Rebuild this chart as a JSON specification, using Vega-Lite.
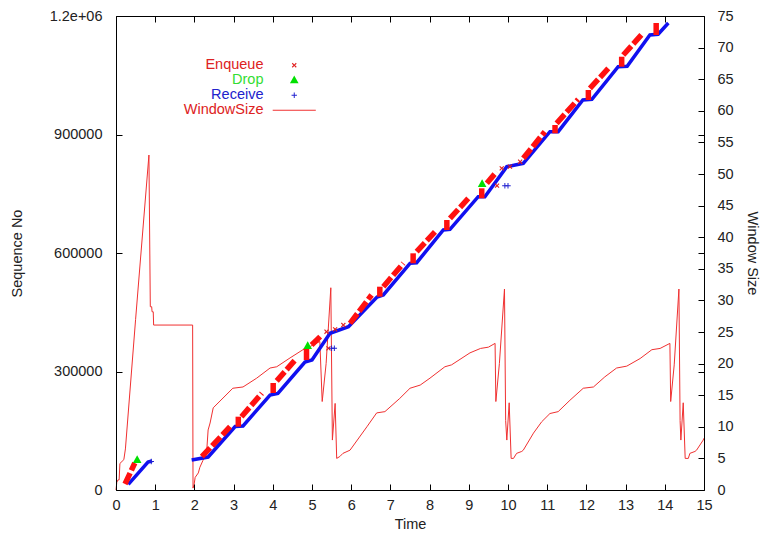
{
  "$schema": "https://vega.github.io/schema/vega-lite/v6.json",
  "width": 588,
  "height": 474,
  "autosize": {"type": "none"},
  "padding": {"left": 116, "top": 16, "right": 59, "bottom": 47},
  "background": "white",
  "config": {
    "font": "Liberation Sans",
    "view": {"stroke": null},
    "axis": {
      "labelFont": "Liberation Sans",
      "titleFont": "Liberation Sans",
      "labelFontSize": 14.5,
      "titleFontSize": 14.5,
      "titleFontWeight": "normal",
      "labelColor": "#222222",
      "titleColor": "#222222",
      "domainColor": "#000000",
      "domainWidth": 1
    }
  },
  "datasets": {
    "receive": [
      {"t": 0.314, "seq": 14400, "seg": "r1"},
      {"t": 0.816, "seq": 70900, "seg": "r1"},
      {"t": 0.918, "seq": 73400, "seg": "r1"},
      {"t": 1.93, "seq": 75900, "seg": "r2"},
      {"t": 2.35, "seq": 83500, "seg": "r2"},
      {"t": 3.04, "seq": 160800, "seg": "r2"},
      {"t": 3.24, "seq": 162000, "seg": "r2"},
      {"t": 3.93, "seq": 240500, "seg": "r2"},
      {"t": 4.13, "seq": 244300, "seg": "r2"},
      {"t": 4.82, "seq": 324000, "seg": "r2"},
      {"t": 5.0, "seq": 329100, "seg": "r2"},
      {"t": 5.46, "seq": 396700, "seg": "r2"},
      {"t": 5.93, "seq": 413400, "seg": "r2"},
      {"t": 6.66, "seq": 488600, "seg": "r2"},
      {"t": 6.82, "seq": 493700, "seg": "r2"},
      {"t": 7.5, "seq": 573900, "seg": "r2"},
      {"t": 7.67, "seq": 575400, "seg": "r2"},
      {"t": 8.35, "seq": 658200, "seg": "r2"},
      {"t": 8.52, "seq": 660000, "seg": "r2"},
      {"t": 9.24, "seq": 742500, "seg": "r2"},
      {"t": 9.41, "seq": 742500, "seg": "r2"},
      {"t": 9.97, "seq": 818500, "seg": "r2"},
      {"t": 10.39, "seq": 827100, "seg": "r2"},
      {"t": 11.07, "seq": 907100, "seg": "r2"},
      {"t": 11.28, "seq": 907100, "seg": "r2"},
      {"t": 11.91, "seq": 987300, "seg": "r2"},
      {"t": 12.14, "seq": 989100, "seg": "r2"},
      {"t": 12.81, "seq": 1071600, "seg": "r2"},
      {"t": 13.04, "seq": 1072600, "seg": "r2"},
      {"t": 13.62, "seq": 1151900, "seg": "r2"},
      {"t": 13.83, "seq": 1153700, "seg": "r2"},
      {"t": 14.09, "seq": 1182300, "seg": "r2"}
    ],
    "enqueue": [
      {"t": 0.23, "seq": 15200, "seg": "0d"},
      {"t": 0.48, "seq": 68400, "seg": "0d"},
      {"t": 2.19, "seq": 84300, "seg": "1d"},
      {"t": 2.91, "seq": 160300, "seg": "1d"},
      {"t": 3.12, "seq": 160300, "seg": "2v"},
      {"t": 3.12, "seq": 185600, "seg": "2v"},
      {"t": 3.2, "seq": 185600, "seg": "2d"},
      {"t": 3.72, "seq": 244800, "seg": "2d"},
      {"t": 4.01, "seq": 245600, "seg": "3v"},
      {"t": 4.01, "seq": 270900, "seg": "3v"},
      {"t": 4.1, "seq": 276200, "seg": "3d"},
      {"t": 4.57, "seq": 329100, "seg": "3d"},
      {"t": 4.86, "seq": 329100, "seg": "4v"},
      {"t": 4.86, "seq": 362800, "seg": "4v"},
      {"t": 4.99, "seq": 367100, "seg": "4d"},
      {"t": 5.25, "seq": 392400, "seg": "4d"},
      {"t": 5.97, "seq": 422000, "seg": "5d"},
      {"t": 6.52, "seq": 493700, "seg": "5d"},
      {"t": 6.73, "seq": 489400, "seg": "6v"},
      {"t": 6.73, "seq": 514700, "seg": "6v"},
      {"t": 6.82, "seq": 514700, "seg": "6d"},
      {"t": 7.33, "seq": 573900, "seg": "6d"},
      {"t": 7.58, "seq": 573900, "seg": "7v"},
      {"t": 7.58, "seq": 599200, "seg": "7v"},
      {"t": 7.67, "seq": 603300, "seg": "7d"},
      {"t": 8.18, "seq": 658200, "seg": "7d"},
      {"t": 8.44, "seq": 658200, "seg": "8v"},
      {"t": 8.44, "seq": 683500, "seg": "8v"},
      {"t": 8.52, "seq": 687800, "seg": "8d"},
      {"t": 8.99, "seq": 738500, "seg": "8d"},
      {"t": 9.33, "seq": 738500, "seg": "9v"},
      {"t": 9.33, "seq": 763800, "seg": "9v"},
      {"t": 9.46, "seq": 776500, "seg": "9d"},
      {"t": 9.71, "seq": 805800, "seg": "9d"},
      {"t": 10.39, "seq": 839700, "seg": "10d"},
      {"t": 10.94, "seq": 907100, "seg": "10d"},
      {"t": 11.2, "seq": 903000, "seg": "11v"},
      {"t": 11.2, "seq": 924000, "seg": "11v"},
      {"t": 11.24, "seq": 928300, "seg": "11d"},
      {"t": 11.79, "seq": 989100, "seg": "11d"},
      {"t": 12.05, "seq": 987300, "seg": "12v"},
      {"t": 12.05, "seq": 1012700, "seg": "12v"},
      {"t": 12.09, "seq": 1017000, "seg": "12d"},
      {"t": 12.6, "seq": 1071600, "seg": "12d"},
      {"t": 12.9, "seq": 1071600, "seg": "13v"},
      {"t": 12.9, "seq": 1096900, "seg": "13v"},
      {"t": 12.94, "seq": 1101300, "seg": "13d"},
      {"t": 13.44, "seq": 1156200, "seg": "13d"},
      {"t": 13.78, "seq": 1151900, "seg": "14v"},
      {"t": 13.78, "seq": 1185600, "seg": "14v"}
    ],
    "markers": [
      {"t": 0.54, "seq": 76000, "series": "Drop"},
      {"t": 4.89, "seq": 364500, "series": "Drop"},
      {"t": 9.34, "seq": 774700, "series": "Drop"},
      {"t": 5.37, "seq": 400700, "series": "Enqueue"},
      {"t": 5.59, "seq": 406800, "series": "Enqueue"},
      {"t": 5.8, "seq": 417700, "series": "Enqueue"},
      {"t": 9.84, "seq": 814400, "series": "Enqueue"},
      {"t": 10.05, "seq": 818500, "series": "Enqueue"},
      {"t": 10.31, "seq": 831100, "series": "Enqueue"},
      {"t": 5.42, "seq": 358700, "series": "Enqueue"},
      {"t": 9.72, "seq": 770400, "series": "Enqueue"},
      {"t": 5.5, "seq": 358700, "series": "Receive"},
      {"t": 5.57, "seq": 358700, "series": "Receive"},
      {"t": 9.92, "seq": 770400, "series": "Receive"},
      {"t": 10.0, "seq": 770400, "series": "Receive"},
      {"t": 0.9, "seq": 72000, "series": "Receive"}
    ],
    "window": [
      {"t": 0, "w": 0}, {"t": 0.02, "w": 1.2}, {"t": 0.05, "w": 1.6}, {"t": 0.08, "w": 1.6},
      {"t": 0.1, "w": 4.2}, {"t": 0.2, "w": 4.8}, {"t": 0.24, "w": 6.5}, {"t": 0.5, "w": 27},
      {"t": 0.84, "w": 53}, {"t": 0.875, "w": 29}, {"t": 0.91, "w": 29}, {"t": 0.92, "w": 28.2},
      {"t": 0.95, "w": 28.2}, {"t": 0.96, "w": 26.1}, {"t": 1.955, "w": 26.1}, {"t": 1.965, "w": 0.3},
      {"t": 1.99, "w": 0.8}, {"t": 2.02, "w": 2}, {"t": 2.1, "w": 2.7}, {"t": 2.14, "w": 3.6},
      {"t": 2.22, "w": 4.7}, {"t": 2.31, "w": 5.8}, {"t": 2.35, "w": 9.5}, {"t": 2.4, "w": 10.6},
      {"t": 2.48, "w": 13}, {"t": 2.98, "w": 16.1}, {"t": 3.24, "w": 16.3}, {"t": 3.59, "w": 17.7},
      {"t": 3.93, "w": 19.3}, {"t": 4.1, "w": 19.5}, {"t": 4.44, "w": 20.9}, {"t": 4.77, "w": 22.2},
      {"t": 4.95, "w": 22.7}, {"t": 5.2, "w": 23.5}, {"t": 5.26, "w": 14}, {"t": 5.36, "w": 20},
      {"t": 5.48, "w": 32}, {"t": 5.52, "w": 7.9}, {"t": 5.59, "w": 13.7}, {"t": 5.63, "w": 5},
      {"t": 5.71, "w": 5.3}, {"t": 5.79, "w": 5.8}, {"t": 5.97, "w": 6.3}, {"t": 6.4, "w": 10},
      {"t": 6.65, "w": 12.2}, {"t": 6.86, "w": 12.4}, {"t": 7.24, "w": 14.5}, {"t": 7.5, "w": 16.1},
      {"t": 7.76, "w": 16.6}, {"t": 8.01, "w": 17.7}, {"t": 8.39, "w": 19.5}, {"t": 8.56, "w": 19.8},
      {"t": 9.03, "w": 21.7}, {"t": 9.3, "w": 22.4}, {"t": 9.5, "w": 22.6}, {"t": 9.67, "w": 23.2},
      {"t": 9.69, "w": 14}, {"t": 9.78, "w": 20}, {"t": 9.91, "w": 31.8}, {"t": 9.94, "w": 11},
      {"t": 9.97, "w": 7.9}, {"t": 10.03, "w": 13.8}, {"t": 10.08, "w": 5}, {"t": 10.14, "w": 5},
      {"t": 10.22, "w": 5.8}, {"t": 10.35, "w": 6.1}, {"t": 10.39, "w": 6.3}, {"t": 10.65, "w": 9},
      {"t": 10.86, "w": 10.8}, {"t": 11.07, "w": 12.1}, {"t": 11.28, "w": 12.4}, {"t": 11.58, "w": 14.2},
      {"t": 11.92, "w": 16.1}, {"t": 12.18, "w": 16.3}, {"t": 12.47, "w": 17.9}, {"t": 12.77, "w": 19.3},
      {"t": 13.03, "w": 19.6}, {"t": 13.37, "w": 20.8}, {"t": 13.67, "w": 22.2}, {"t": 13.88, "w": 22.4},
      {"t": 14.13, "w": 23.2}, {"t": 14.15, "w": 14}, {"t": 14.24, "w": 19.8}, {"t": 14.36, "w": 31.8},
      {"t": 14.39, "w": 11}, {"t": 14.41, "w": 7.9}, {"t": 14.47, "w": 13.8}, {"t": 14.52, "w": 5},
      {"t": 14.6, "w": 5}, {"t": 14.64, "w": 5.8}, {"t": 14.77, "w": 6.1}, {"t": 14.81, "w": 6.3},
      {"t": 14.98, "w": 7.9}, {"t": 15, "w": 8.2}
    ]
  },
  "layer": [
    {
      "data": {"name": "window"},
      "mark": {"type": "line", "color": "#f03030", "strokeWidth": 1, "interpolate": "linear"},
      "encoding": {
        "x": {"field": "t", "type": "quantitative", "scale": {"domain": [0, 15], "nice": false, "zero": false}, "axis": null},
        "y": {
          "field": "w", "type": "quantitative",
          "scale": {"domain": [0, 75], "nice": false},
          "axis": {
            "orient": "right",
            "title": "Window Size",
            "values": [0, 5, 10, 15, 18.75, 20, 25, 30, 35, 37.5, 40, 45, 50, 55, 56.25, 60, 65, 70, 75],
            "labelExpr": "datum.value % 5 == 0 ? format(datum.value, 'd') : ''",
            "grid": false, "domain": true, "labelFlush": false,
            "ticks": true, "tickSize": -6, "tickColor": "black", "tickWidth": 1, "zindex": 1,
            "labelPadding": 19,
            "titlePadding": 11
          }
        }
      }
    },
    {
      "data": {"name": "receive"},
      "mark": {"type": "line", "color": "#1010f0", "strokeWidth": 3.5},
      "encoding": {
        "x": {
          "field": "t", "type": "quantitative",
          "scale": {"domain": [0, 15], "nice": false, "zero": false},
          "axis": {
            "orient": "bottom", "title": "Time",
            "values": [0,1,2,3,4,5,6,7,8,9,10,11,12,13,14,15],
            "grid": false, "domain": true, "labelFlush": false,
            "ticks": true, "tickSize": -6, "tickColor": "black", "tickWidth": 1, "zindex": 1,
            "labelPadding": 14, "titlePadding": 6
          }
        },
        "y": {
          "field": "seq", "type": "quantitative",
          "scale": {"domain": [0, 1200000], "nice": false},
          "axis": {
            "orient": "left",
            "title": "Sequence No",
            "values": [0, 300000, 600000, 900000, 1200000],
            "labelExpr": "datum.value >= 1200000 ? '1.2e+06' : format(datum.value, 'd')",
            "grid": false, "domain": true, "labelFlush": false,
            "ticks": true, "tickSize": -6, "tickColor": "black", "tickWidth": 1, "zindex": 1,
            "labelPadding": 20,
            "titlePadding": 25
          }
        },
        "detail": {"field": "seg"}
      }
    },
    {
      "data": {"name": "enqueue"},
      "mark": {"type": "line", "color": "#ff1010", "strokeWidth": 5.5, "strokeDash": [12, 3]},
      "encoding": {
        "x": {
          "field": "t", "type": "quantitative",
          "scale": {"domain": [0, 15], "nice": false, "zero": false},
          "axis": {
            "orient": "top", "title": null, "labels": false,
            "values": [0,1,2,3,4,5,6,7,8,9,10,11,12,13,14,15],
            "grid": false, "domain": true,
            "ticks": true, "tickSize": -6, "tickColor": "black", "tickWidth": 1, "zindex": 1
          }
        },
        "y": {"field": "seq", "type": "quantitative", "scale": {"domain": [0, 1200000], "nice": false}, "axis": null},
        "detail": {"field": "seg"}
      }
    },
    {
      "data": {"name": "markers"},
      "mark": {"type": "point", "filled": true, "opacity": 1, "size": 29, "strokeWidth": 0},
      "encoding": {
        "x": {"field": "t", "type": "quantitative", "scale": {"domain": [0, 15], "nice": false, "zero": false}, "axis": null},
        "y": {"field": "seq", "type": "quantitative", "scale": {"domain": [0, 1200000], "nice": false}, "axis": null},
        "color": {
          "field": "series", "type": "nominal",
          "scale": {"domain": ["Enqueue", "Drop", "Receive", "WindowSize"], "range": ["#e02020", "#00e000", "#2020d0", "#f03030"]},
          "legend": {
            "orient": "none",
            "legendX": 171,
            "legendY": 42,
            "title": null,
            "padding": 0,
            "rowPadding": 0,
            "labelAlign": "right",
            "labelOffset": -38,
            "labelFontSize": 14.5,
            "labelFont": "Liberation Sans",
            "labelLimit": 300,
            "symbolSize": 29,
            "symbolStrokeWidth": 0,
            "labelColor": {"expr": "datum.value === 'Drop' ? '#33dd33' : datum.value === 'Receive' ? '#2222cc' : '#dd2222'"}
          }
        },
        "shape": {
          "field": "series", "type": "nominal",
          "scale": {
            "domain": ["Enqueue", "Drop", "Receive", "WindowSize"],
            "range": [
              "M-0.9,-0.6L-0.6,-0.9L0,-0.3L0.6,-0.9L0.9,-0.6L0.3,0L0.9,0.6L0.6,0.9L0,0.3L-0.6,0.9L-0.9,0.6L-0.3,0Z",
              "M0,-1.8L1.6,1.1L-1.6,1.1Z",
              "M-1,-0.18H-0.18V-1H0.18V-0.18H1V0.18H0.18V1H-0.18V0.18H-1Z",
              "M-8,-0.2H8V0.2H-8Z"
            ]
          },
          "legend": null
        }
      }
    }
  ],
  "resolve": {"scale": {"y": "independent"}, "axis": {"x": "independent"}}
}
